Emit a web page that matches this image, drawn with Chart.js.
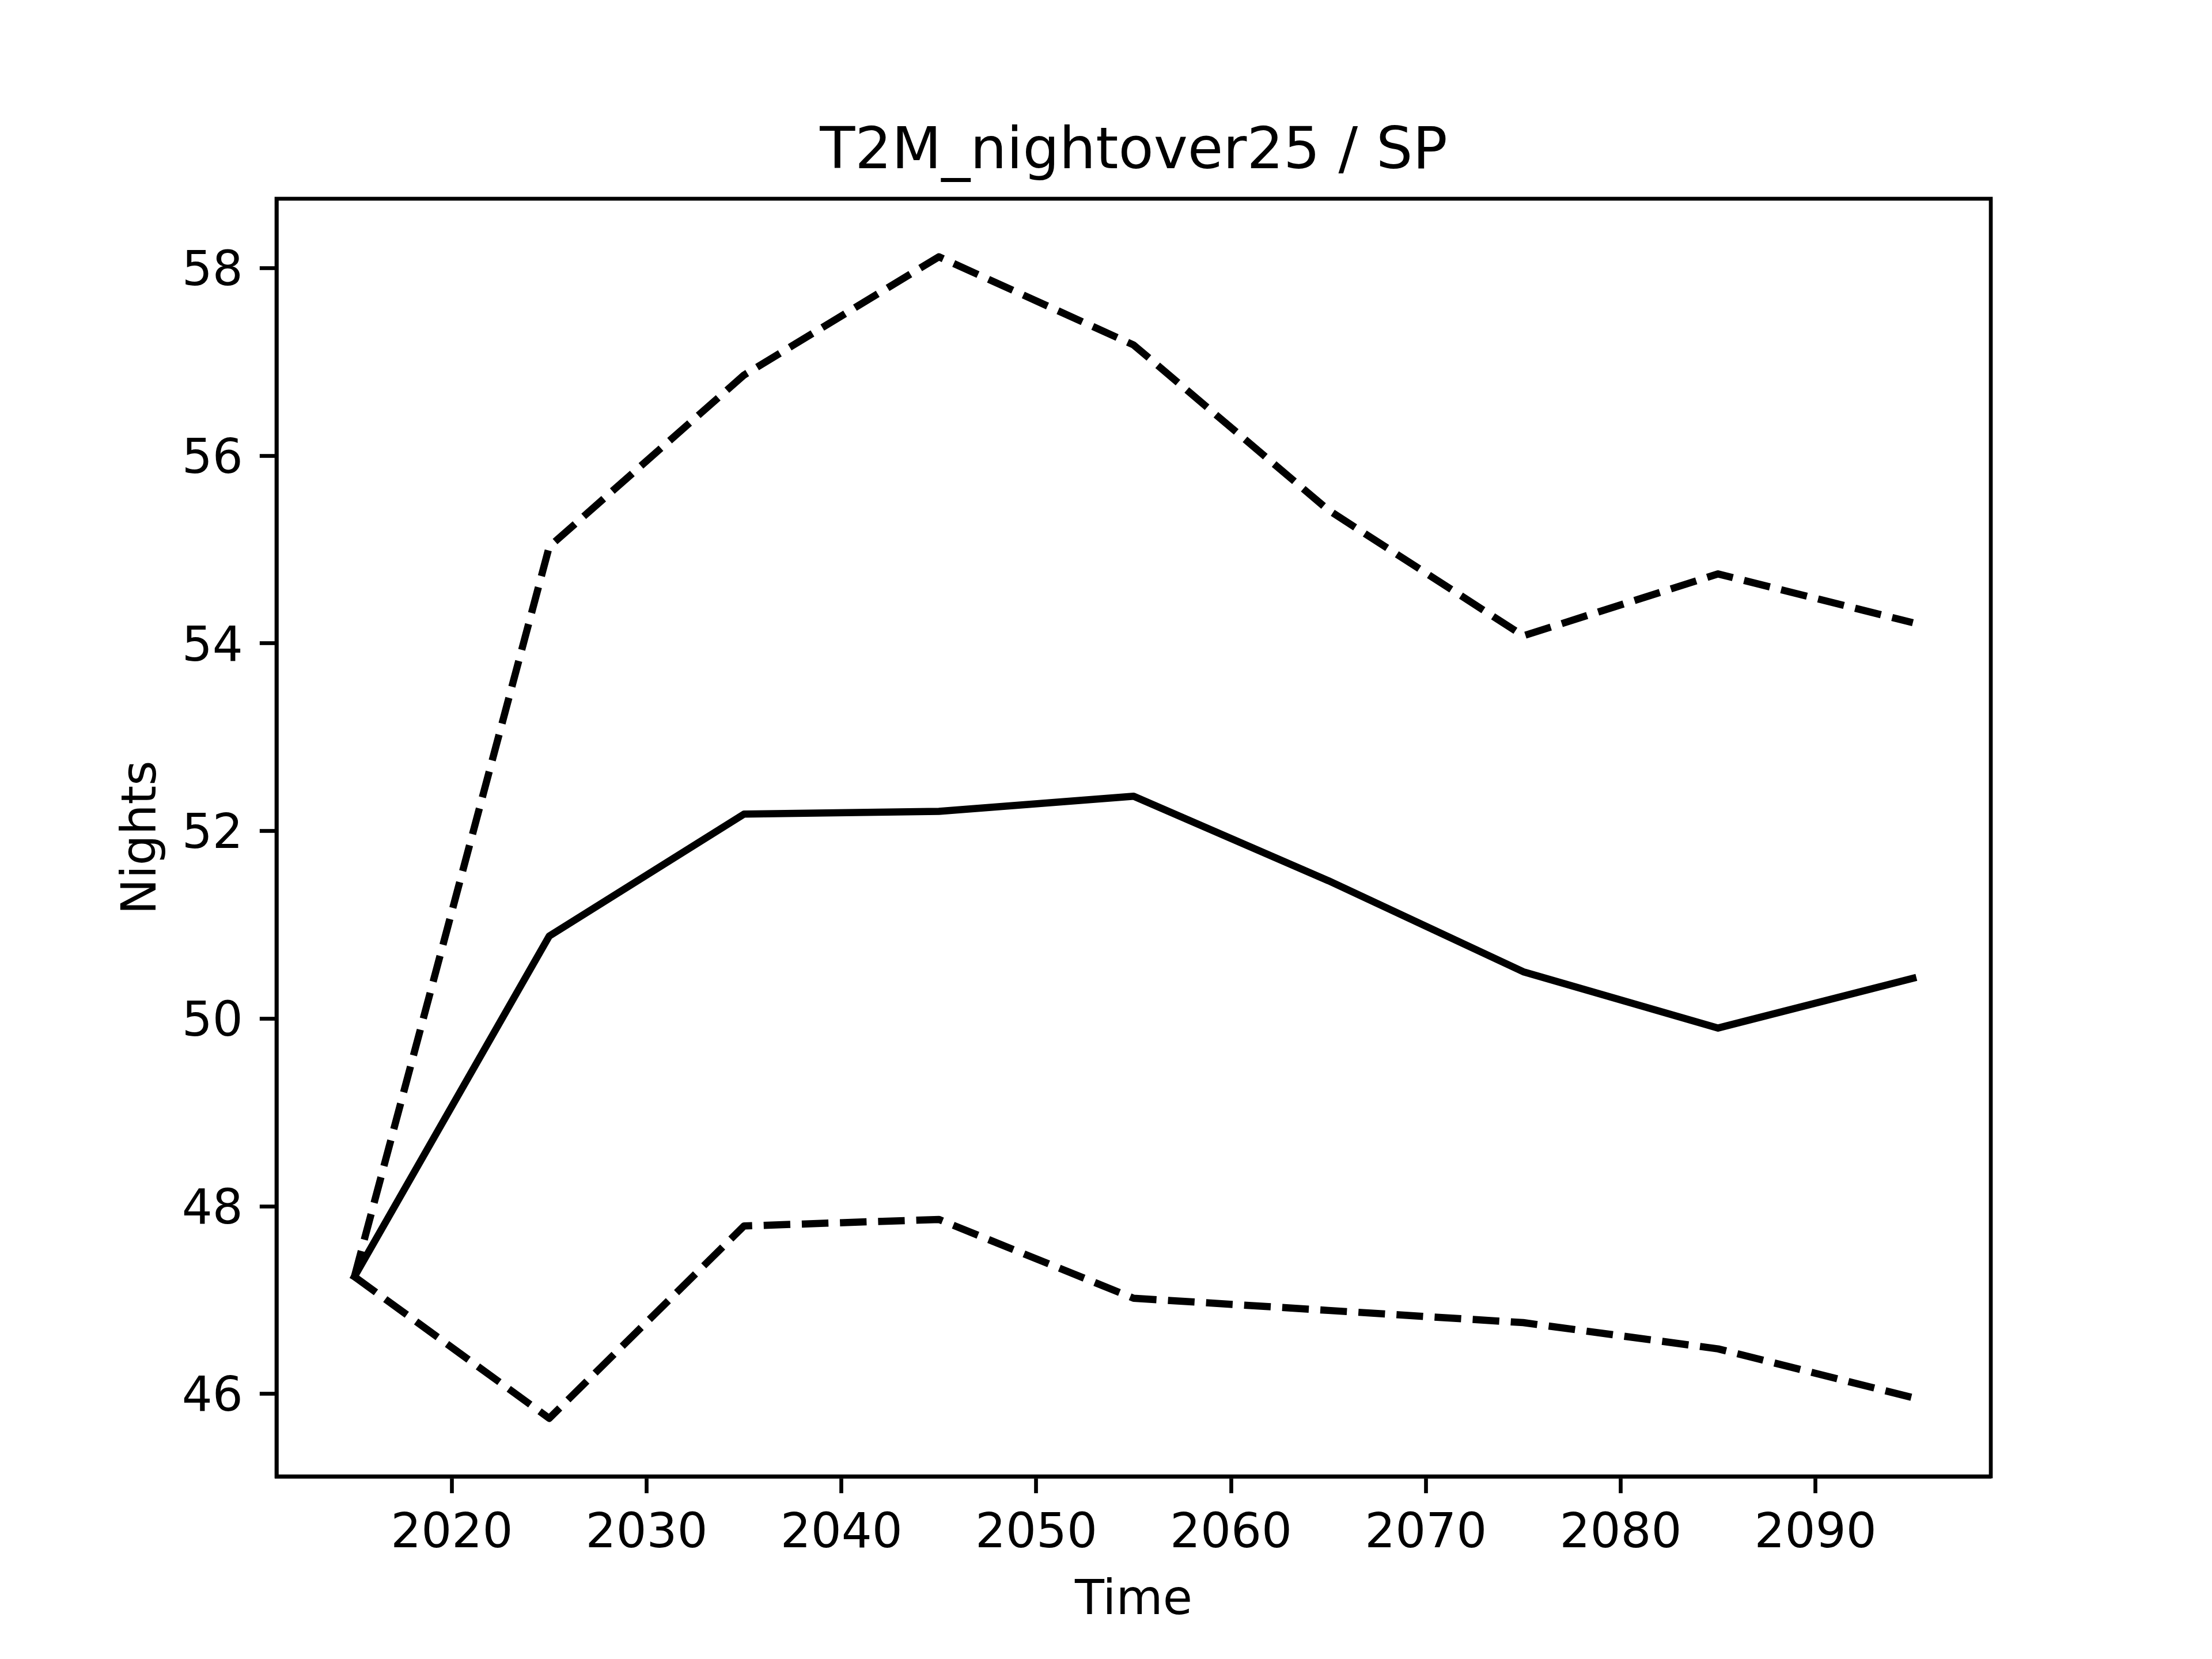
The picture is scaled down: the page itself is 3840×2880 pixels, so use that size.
<!DOCTYPE html>
<html>
<head>
<meta charset="utf-8">
<title>T2M_nightover25 / SP</title>
<script src="https://cdn.jsdelivr.net/npm/chart.js@4.4.1/dist/chart.umd.min.js"></script>
<style>
  html, body { margin: 0; padding: 0; background: #fff; }
  #wrap { width: 3840px; height: 2880px; }
</style>
</head>
<body>
<div id="wrap"><canvas id="chart" width="3840" height="2880"></canvas></div>
<script>
// values
const years = [2015, 2025, 2035, 2045, 2055, 2065, 2075, 2085, 2095];
const meanNights  = [47.25, 50.88, 52.18, 52.21, 52.37, 51.47, 50.50, 49.90, 50.43];
const upperNights = [47.25, 55.03, 56.86, 58.12, 57.18, 55.42, 54.08, 54.74, 54.22];
const lowerNights = [47.25, 45.74, 47.79, 47.86, 47.02, 46.89, 46.76, 46.48, 45.96];
const xTicks = [2020, 2030, 2040, 2050, 2060, 2070, 2080, 2090];
const yTicks = [46, 48, 50, 52, 54, 56, 58];

const titleText = 'T2M_nightover25 / SP';
const xLabel = 'Time';
const yLabel = 'Nights';

(function(){
  'use strict';

  const FONT = 'DejaVu Sans';
  const PT = 600 / 72;           // matplotlib points -> px at 600 dpi
  const LW = 1.5 * PT;
  const SPINE = 0.8 * PT;

  function pts(ys){ return years.map((x, i) => ({ x: x, y: ys[i] })); }

  // 5% margins like matplotlib autoscale
  const allY = meanNights.concat(upperNights, lowerNights);
  const yLo = Math.min.apply(null, allY), yHi = Math.max.apply(null, allY);
  const xLo = Math.min.apply(null, years), xHi = Math.max.apply(null, years);
  const yPad = (yHi - yLo) * 0.05, xPad = (xHi - xLo) * 0.05;

  const whiteBg = {
    id: 'whiteBg',
    beforeDraw(chart){
      const c = chart.ctx;
      c.save(); c.fillStyle = '#fff'; c.fillRect(0, 0, chart.width, chart.height); c.restore();
    }
  };
  const frame = {
    id: 'frame',
    afterDraw(chart){
      const a = chart.chartArea, c = chart.ctx;
      c.save();
      c.strokeStyle = '#000';
      c.lineWidth = SPINE;
      c.lineJoin = 'miter';
      c.strokeRect(a.left, a.top, a.right - a.left, a.bottom - a.top);
      c.restore();
    }
  };

  function line(data, dashed){
    return {
      data: pts(data),
      borderColor: '#000',
      backgroundColor: '#000',
      borderWidth: LW,
      borderDash: dashed ? [3.7 * LW, 1.6 * LW] : [],
      borderCapStyle: dashed ? 'butt' : 'square',
      borderJoinStyle: 'round',
      pointRadius: 0,
      tension: 0,
      fill: false
    };
  }

  const tickFont = { family: FONT, size: 10 * PT };

  new Chart(document.getElementById('chart'), {
    type: 'line',
    data: {
      datasets: [ line(upperNights, true), line(meanNights, false), line(lowerNights, true) ]
    },
    options: {
      responsive: false,
      animation: false,
      devicePixelRatio: 1,
      layout: { padding: { left: 0, right: 384, top: 0, bottom: 0 } },
      plugins: {
        legend: { display: false },
        tooltip: { enabled: false },
        title: {
          display: true,
          text: titleText,
          fullSize: false,
          color: '#000',
          font: { family: FONT, size: 12 * PT, weight: 'normal', lineHeight: 1.2 },
          padding: { top: 206, bottom: 19 }
        }
      },
      scales: {
        x: {
          type: 'linear',
          min: xLo - xPad,
          max: xHi + xPad,
          afterBuildTicks(s){ s.ticks = xTicks.map(v => ({ value: v })); },
          afterFit(s){ s.height = 317; },
          grid: { drawOnChartArea: false, drawTicks: true, tickLength: 3.5 * PT, tickColor: '#000', tickWidth: SPINE },
          border: { display: true, color: '#000', width: SPINE },
          ticks: { color: '#000', font: tickFont, padding: 22, maxRotation: 0, autoSkip: false,
                   callback: v => String(v) },
          title: { display: true, text: xLabel, color: '#000', font: tickFont, padding: { top: 0, bottom: 50 } }
        },
        y: {
          type: 'linear',
          min: yLo - yPad,
          max: yHi + yPad,
          afterBuildTicks(s){ s.ticks = yTicks.map(v => ({ value: v })); },
          afterFit(s){ s.width = 480; },
          grid: { drawOnChartArea: false, drawTicks: true, tickLength: 3.5 * PT, tickColor: '#000', tickWidth: SPINE },
          border: { display: true, color: '#000', width: SPINE },
          ticks: { color: '#000', font: tickFont, padding: 3.5 * PT, autoSkip: false, labelOffset: 8,
                   callback: v => String(v) },
          title: { display: true, text: yLabel, color: '#000', font: tickFont, padding: { top: 198, bottom: 0 } }
        }
      }
    },
    plugins: [whiteBg, frame]
  });
})();
</script>
</body>
</html>
